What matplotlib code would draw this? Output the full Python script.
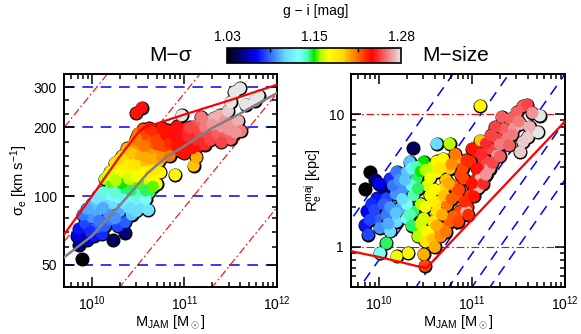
import numpy as np
import matplotlib
matplotlib.use("Agg")
import matplotlib.pyplot as plt
from matplotlib.colors import LinearSegmentedColormap, Normalize
from matplotlib.cm import ScalarMappable
from matplotlib.ticker import FixedLocator, NullFormatter, LogLocator

plt.rcParams['font.family'] = ['Liberation Sans', 'DejaVu Sans']
plt.rcParams['mathtext.fontset'] = 'custom'
plt.rcParams['mathtext.rm'] = 'Liberation Sans'
plt.rcParams['mathtext.it'] = 'Liberation Sans:italic'
plt.rcParams['mathtext.bf'] = 'Liberation Sans:bold'

# ---- M-sigma panel: log10 M_JAM, sigma_e [km/s], g-i colour
ms_logm = [9.89, 9.86, 9.84, 9.86, 9.95, 10.02, 10.11, 10.23, 10.36, 9.93, 10.05, 10.14, 10.28, 10.36, 10.2,
           10.0, 10.06, 10.18, 10.3, 10.43, 10.52, 10.61, 10.0, 10.1, 10.22, 10.35, 10.46, 10.07, 10.16, 10.28,
           10.41, 10.55, 10.2, 10.29, 10.37, 10.46, 10.53, 10.62, 10.12, 10.14, 10.22, 10.29, 10.37, 10.45,
           10.52, 10.6, 10.66, 10.7, 10.2, 10.3, 10.42, 10.5, 10.58, 10.74, 10.9, 10.25, 10.33, 10.4, 10.46,
           10.55, 10.64, 10.72, 10.38, 10.45, 10.53, 10.62, 10.7, 11.1, 11.13, 10.5, 10.55, 10.6, 10.64, 10.68,
           10.74, 10.78, 10.82, 10.86, 10.88, 10.94, 10.97, 11.0, 11.02, 11.06, 11.1, 11.15, 11.2, 11.25, 11.32,
           11.38, 11.44, 11.5, 10.76, 10.92, 10.48, 10.54, 10.97, 11.12, 11.18, 11.25, 11.32, 11.38, 11.44,
           11.52, 11.58, 11.61, 11.47, 11.5, 11.54, 11.6, 11.76, 11.8, 11.66,
           9.98, 10.08, 10.25, 9.9, 9.95, 10.12, 10.4, 10.48,
           10.05, 10.22, 10.34, 10.48, 10.58,
           10.25, 10.42, 10.58, 10.32, 10.5, 10.66,
           10.18, 10.26, 10.34, 10.4, 10.48, 10.56, 10.63, 10.68, 10.36, 10.46,
           10.3, 10.5, 10.58, 10.66, 10.76, 10.42, 10.48, 10.56, 10.84,
           10.62, 10.7, 10.72, 10.8, 10.84, 10.9, 10.92, 10.95, 11.0, 11.04, 11.08, 11.12, 11.16, 11.22, 11.28,
           11.35, 11.4, 11.06,
           11.22, 11.3, 11.4, 11.48, 11.55]
ms_sigma = [53, 61, 67, 72, 64, 67, 68, 64, 69, 76, 73, 74, 74, 77, 79,
            81, 86, 84, 86, 83, 89, 87, 92, 95, 93, 93, 95, 100, 102, 99,
            101, 102, 108, 110, 106, 111, 109, 104, 104, 119, 115, 120, 123, 118,
            125, 118, 121, 113, 128, 132, 131, 135, 131, 127, 124, 140, 150, 142, 148,
            143, 140, 142, 162, 170, 160, 155, 152, 136, 148, 188, 196, 182, 172, 190,
            180, 166, 194, 178, 158, 170, 186, 154, 198, 176, 190, 166, 180, 188, 182,
            178, 182, 178, 198, 202, 231, 244, 226, 204, 222, 213, 220, 226, 214,
            206, 214, 193, 236, 258, 286, 297, 262, 276, 252,
            70, 78, 80, 83, 88, 89, 89, 86,
            98, 101, 97, 102, 97,
            104, 106, 106, 114, 115, 110,
            124, 117, 127, 119, 122, 126, 128, 132, 136, 138,
            145, 153, 148, 146, 148, 155, 178, 166, 150,
            198, 176, 168, 186, 170, 184, 166, 158, 172, 184, 162, 178, 192, 168, 176,
            188, 172, 200,
            200, 206, 202, 196, 190]
ms_gi = [1.03, 1.05, 1.065, 1.075, 1.06, 1.075, 1.08, 1.045, 1.05, 1.085, 1.09, 1.09, 1.085, 1.09, 1.095,
         1.10, 1.105, 1.10, 1.105, 1.11, 1.115, 1.12, 1.11, 1.115, 1.115, 1.12, 1.125, 1.12, 1.125, 1.13,
         1.135, 1.14, 1.145, 1.15, 1.15, 1.155, 1.155, 1.15, 1.14, 1.165, 1.16, 1.165, 1.17, 1.17,
         1.175, 1.17, 1.175, 1.175, 1.175, 1.18, 1.185, 1.19, 1.185, 1.18, 1.18, 1.19, 1.195, 1.195, 1.2,
         1.2, 1.2, 1.2, 1.205, 1.21, 1.21, 1.21, 1.21, 1.2, 1.205, 1.215, 1.225, 1.225, 1.22, 1.23,
         1.23, 1.225, 1.235, 1.235, 1.23, 1.235, 1.24, 1.235, 1.245, 1.24, 1.245, 1.24, 1.245, 1.25, 1.25,
         1.25, 1.255, 1.255, 1.235, 1.24, 1.235, 1.24, 1.28, 1.255, 1.26, 1.26, 1.27, 1.27, 1.265,
         1.265, 1.27, 1.26, 1.275, 1.28, 1.28, 1.28, 1.28, 1.28, 1.28,
         1.08, 1.095, 1.1, 1.095, 1.105, 1.105, 1.115, 1.115,
         1.12, 1.13, 1.125, 1.14, 1.135,
         1.14, 1.15, 1.15, 1.155, 1.16, 1.16,
         1.17, 1.165, 1.175, 1.17, 1.175, 1.18, 1.185, 1.19, 1.185, 1.19,
         1.195, 1.205, 1.205, 1.205, 1.21, 1.2, 1.215, 1.215, 1.215,
         1.23, 1.225, 1.225, 1.235, 1.23, 1.24, 1.235, 1.235, 1.24, 1.245, 1.24, 1.245, 1.25, 1.245, 1.25,
         1.255, 1.25, 1.25,
         1.26, 1.265, 1.265, 1.265, 1.265]

# ---- M-size panel: log10 M_JAM, R_e^maj [kpc], g-i colour
sz_logm = [9.90, 9.85, 9.96, 10.05, 10.37, 9.87, 9.85, 9.885, 9.975, 10.12, 10.19, 10.08, 9.975, 10.08,
           10.01, 10.12, 10.23, 10.26, 10.3, 10.33, 10.19, 10.3, 10.18, 10.15, 10.22, 10.62, 10.08, 10.01,
           10.37, 10.405, 10.48, 10.37, 10.405, 10.3, 10.35, 10.19, 10.315, 10.48, 10.55, 10.62, 10.69,
           10.76, 11.09, 10.45, 10.52, 10.58, 10.48, 10.55, 10.62, 10.69, 10.76, 10.835, 10.58, 10.65,
           10.72, 11.09, 10.48, 10.495, 10.66, 10.76, 10.73, 10.835, 10.91, 10.98, 11.05, 10.87, 10.98,
           11.05, 10.8, 10.9, 10.95, 11.03, 11.1, 11.12, 11.16, 11.19, 11.27, 11.34, 11.41, 11.48, 11.55,
           11.595, 11.19, 11.27, 11.3, 11.38, 11.45, 11.73, 11.71, 11.55, 11.52, 11.52, 11.09, 11.07, 10.94,
           9.92, 9.95, 10.0, 10.05, 10.12, 10.1, 10.25, 10.28, 10.18, 10.35, 10.4, 9.9,
           10.33, 10.42, 10.45, 10.35, 10.42, 10.5,
           10.45, 10.5, 10.55, 10.6, 10.62, 10.52, 10.58, 10.66, 10.5,
           10.58, 10.62, 10.68, 10.7, 10.75, 10.78, 10.82, 10.6, 10.66,
           10.72, 10.8, 10.78, 10.86, 10.88, 10.94, 11.0, 10.92, 11.0, 11.05, 11.1, 11.15, 11.2, 11.25, 11.32,
           11.02, 11.12, 11.22, 11.3, 11.4, 11.43, 11.5, 10.85, 10.96,
           11.15, 11.62, 11.65, 11.6]
sz_re = [3.67, 2.75, 3.2, 2.75, 5.55, 1.85, 1.47, 1.24, 2.32, 3.27, 3.67, 2.32, 1.64, 1.74,
         1.39, 1.31, 1.95, 2.75, 3.67, 4.37, 1.55, 1.64, 2.5, 2.9, 3.2, 5.97, 1.07, 0.90,
         2.45, 3.27, 4.37, 1.85, 1.39, 2.1, 2.9, 0.85, 0.90, 1.64, 2.45, 3.67, 4.61,
         5.97, 11.5, 2.1, 2.9, 4.0, 1.31, 1.24, 1.85, 2.75, 3.89, 4.61, 1.55, 2.2,
         3.2, 6.31, 0.88, 0.72, 1.39, 1.55, 2.07, 2.45, 3.27, 4.37, 5.18, 1.85, 2.45,
         3.27, 2.9, 3.9, 2.0, 2.8, 3.7, 4.6, 4.37, 5.48, 6.5, 7.73, 9.18, 10.3, 11.5,
         11.75, 3.89, 4.9, 5.9, 6.6, 7.8, 9.73, 7.3, 6.17, 5.18, 8.41, 3.27, 2.8, 1.85,
         2.1, 1.9, 3.0, 2.1, 2.0, 1.5, 2.3, 3.2, 1.8, 3.9, 4.0, 1.6,
         1.75, 2.75, 3.7, 1.45, 1.2, 3.8,
         1.5, 2.0, 3.3, 2.7, 4.4, 1.3, 2.2, 3.9, 1.1,
         1.15, 1.45, 1.75, 2.45, 3.0, 4.2, 5.0, 1.0, 1.2,
         1.3, 1.7, 2.3, 2.7, 3.5, 4.5, 5.5, 2.2, 3.0, 3.9, 5.0, 6.0, 6.9, 8.0, 9.5,
         2.4, 3.0, 4.3, 4.8, 5.8, 7.0, 8.8, 1.55, 1.75,
         3.5, 8.0, 10.2, 6.7]
sz_gi = [1.03, 1.03, 1.05, 1.05, 1.045, 1.07, 1.075, 1.085, 1.075, 1.08, 1.095, 1.085, 1.09, 1.095,
         1.10, 1.115, 1.105, 1.10, 1.11, 1.11, 1.115, 1.13, 1.10, 1.095, 1.10, 1.115, 1.15, 1.135,
         1.145, 1.15, 1.155, 1.15, 1.16, 1.135, 1.14, 1.175, 1.18, 1.17, 1.175, 1.175, 1.18,
         1.165, 1.18, 1.165, 1.17, 1.17, 1.185, 1.195, 1.19, 1.195, 1.2, 1.205, 1.19, 1.195,
         1.2, 1.2, 1.205, 1.225, 1.21, 1.22, 1.215, 1.22, 1.225, 1.23, 1.24, 1.225, 1.23,
         1.235, 1.22, 1.225, 1.23, 1.235, 1.24, 1.245, 1.25, 1.25, 1.25, 1.255, 1.255, 1.255, 1.255,
         1.25, 1.265, 1.265, 1.26, 1.26, 1.265, 1.28, 1.28, 1.275, 1.275, 1.27, 1.27, 1.27, 1.27,
         1.08, 1.085, 1.07, 1.09, 1.10, 1.105, 1.115, 1.11, 1.11, 1.125, 1.145, 1.085,
         1.145, 1.15, 1.155, 1.15, 1.165, 1.165,
         1.17, 1.175, 1.175, 1.18, 1.18, 1.18, 1.185, 1.19, 1.19,
         1.2, 1.205, 1.205, 1.2, 1.205, 1.21, 1.215, 1.205, 1.21,
         1.215, 1.22, 1.22, 1.225, 1.225, 1.23, 1.235, 1.23, 1.235, 1.24, 1.245, 1.245, 1.25, 1.25, 1.255,
         1.235, 1.245, 1.25, 1.255, 1.255, 1.26, 1.26, 1.225, 1.23,
         1.265, 1.27, 1.265, 1.275]

# zone of exclusion and smoothed trend
zoe_ms_logm = [9.7, 10.0, 10.3, 10.5, 10.56, 10.62, 10.7, 11.0, 11.5, 12.0]
zoe_ms_sigma = [68, 100, 149, 190, 199, 204, 208, 228, 264, 308]
trend_logm = [9.7, 10.0, 10.3, 10.6, 10.8, 11.0, 11.3, 11.6, 12.0]
trend_sigma = [54, 67, 91, 126, 148, 166, 199, 230, 283]
zoe_sz_logm = [9.7, 10.0, 10.2, 10.4, 10.51, 12.0]
zoe_sz_re = [0.93, 0.84, 0.78, 0.72, 0.695, 8.8]

sigma_levels = [50, 100, 200, 300]           # horizontal lines, left
sigma_levels_sz = [50, 100, 200, 300, 400, 500]  # diagonals, right
re_levels = [0.1, 1, 10, 100]                # diagonals, left
re_levels_sz = [1, 10]                       # horizontal lines, right
K_VIR = 1.25e6   # M = K * sigma^2 * Re  (Msun, km/s, kpc)

# sauron colormap
_x = np.array([1.0, 43.5, 86.0, 106.0, 118.5, 128.5, 138.5, 151.0, 171.0, 213.5, 256.0])
_r = [0.01, 0.0, 0.4, 0.5, 0.3, 0.0, 0.7, 1.0, 1.0, 1.0, 0.9]
_g = [0.01, 0.0, 0.85, 1.0, 1.0, 0.9, 1.0, 1.0, 0.85, 0.0, 0.9]
_b = [0.01, 1.0, 1.0, 1.0, 0.7, 0.0, 0.0, 0.0, 0.0, 0.0, 0.9]
_t = (_x - 1.0) / 255.0
cmap = LinearSegmentedColormap("sauron", {
    "red": [(t, v, v) for t, v in zip(_t, _r)],
    "green": [(t, v, v) for t, v in zip(_t, _g)],
    "blue": [(t, v, v) for t, v in zip(_t, _b)]})
norm = Normalize(1.03, 1.28)

DASH = (0, (7, 5))
DASHDOT = (0, (7, 2.5, 1.5, 2.5))

fig = plt.figure(figsize=(5.81, 3.34), dpi=100)
ax1 = fig.add_axes([0.1102, 0.1407, 0.3666, 0.6377])
ax2 = fig.add_axes([0.6041, 0.1407, 0.3683, 0.6377])

mgrid = np.logspace(9.5, 12.3, 60)


def blobs(ax, logm, y, gi):
    x = 10 ** np.asarray(logm)
    ax.scatter(x, y, s=102, c="black", lw=0, zorder=2)
    ax.scatter(x, y, s=74, c=gi, cmap=cmap, norm=norm, lw=0, zorder=3)


# ─── M-sigma ───
for s in sigma_levels:
    ax1.axhline(s, color="blue", lw=1.1, ls=DASH, zorder=1)
for r in re_levels:
    ax1.plot(mgrid, np.sqrt(mgrid / (K_VIR * r)), color="red", lw=0.8, ls=DASHDOT, zorder=1)
blobs(ax1, ms_logm, ms_sigma, ms_gi)
ax1.plot(10 ** np.array(trend_logm), trend_sigma, color="#808080", lw=1.8, zorder=4)
ax1.plot(10 ** np.array(zoe_ms_logm), zoe_ms_sigma, color="red", lw=1.6, zorder=5)
ax1.set_xscale("log")
ax1.set_yscale("log")
ax1.set_xlim(5e9, 1e12)
ax1.set_ylim(40, 343)
ax1.yaxis.set_major_locator(FixedLocator(sigma_levels))
ax1.set_yticklabels([str(s) for s in sigma_levels])
ax1.yaxis.set_minor_locator(FixedLocator([40, 60, 70, 80, 90, 110, 122, 135, 150, 172, 230, 265]))
ax1.yaxis.set_minor_formatter(NullFormatter())
ax1.set_ylabel("σ$_{\\rm e}$ [km s$^{-1}$]", fontsize=10.5, labelpad=3)

# ─── M-size ───
for r in re_levels_sz:
    ax2.axhline(r, color="red", lw=0.8, ls=DASHDOT, zorder=1)
for s in sigma_levels_sz:
    ax2.plot(mgrid, mgrid / (K_VIR * s ** 2), color="blue", lw=1.1, ls=DASH, zorder=1)
blobs(ax2, sz_logm, sz_re, sz_gi)
ax2.plot(10 ** np.array(zoe_sz_logm), zoe_sz_re, color="red", lw=1.6, zorder=5)
ax2.set_xscale("log")
ax2.set_yscale("log")
ax2.set_xlim(5e9, 1e12)
ax2.set_ylim(0.5, 20)
ax2.yaxis.set_major_locator(FixedLocator([1, 10]))
ax2.set_yticklabels(["1", "10"])
ax2.yaxis.set_minor_locator(LogLocator(subs=np.arange(2, 10)))
ax2.yaxis.set_minor_formatter(NullFormatter())
ax2.set_ylabel("R$_{\\rm e}^{\\rm maj}$ [kpc]", fontsize=10.5, labelpad=3)

for ax in (ax1, ax2):
    ax.set_xlabel("M$_{\\rm JAM}$ [M$_\\odot$]", fontsize=10.5, labelpad=1)
    ax.xaxis.set_minor_locator(LogLocator(subs=np.arange(2, 10)))
    ax.xaxis.set_minor_formatter(NullFormatter())
    ax.tick_params(which="both", direction="in", top=True, right=True, labelsize=10, width=1.1)
    ax.tick_params(which="major", length=7, pad=5)
    ax.tick_params(which="minor", length=3.5)
    for sp in ax.spines.values():
        sp.set_linewidth(1.4)

# ─── colour bar ───
cax = fig.add_axes([0.3907, 0.8114, 0.2995, 0.0449])
cb = fig.colorbar(ScalarMappable(norm=norm, cmap=cmap), cax=cax, orientation="horizontal")
cb.outline.set_linewidth(1.2)
cax.xaxis.set_ticks_position("top")
cax.xaxis.set_label_position("top")
cax.set_xticks([1.03, 1.155, 1.28])
cax.set_xticklabels(["1.03", "1.15", "1.28"])
cax.set_xticks([1.0925, 1.155, 1.2175], minor=True)
cax.tick_params(which="major", length=0, labelsize=10, pad=3)
cax.tick_params(which="minor", direction="in", length=3, width=1, top=True, bottom=False)

fig.text(0.544, 0.967, "g − i [mag]", fontsize=10, ha="center", va="center")
fig.text(0.293, 0.835, "M−σ", fontsize=15, ha="center", va="center")
fig.text(0.785, 0.835, "M−size", fontsize=15, ha="center", va="center")

fig.savefig("out.png", dpi=100)
